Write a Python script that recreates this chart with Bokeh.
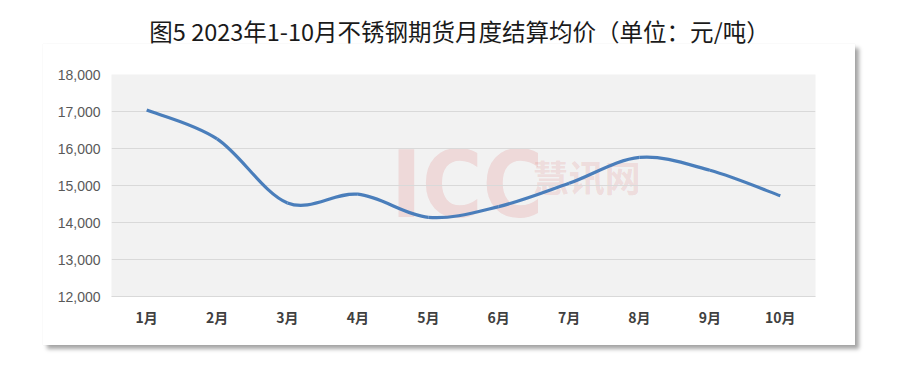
from bokeh.plotting import figure
from bokeh.layouts import column
from bokeh.models import FixedTicker, NumeralTickFormatter, Range1d
from bokeh.core.properties import value
from bokeh.embed import file_html
from bokeh.resources import INLINE

months = ["1月", "2月", "3月", "4月", "5月", "6月", "7月", "8月", "9月", "10月"]
price = [17040, 16260, 14530, 14765, 14140, 14430, 15060, 15760, 15410, 14720]
y_ticks = [12000, 13000, 14000, 15000, 16000, 17000, 18000]
title_text = "图5 2023年1-10月不锈钢期货月度结算均价（单位：元/吨）"

xs = list(range(len(months)))

# ---- title strip ----
t = figure(width=884, height=44, output_backend="svg", toolbar_location=None,
           x_range=Range1d(0, 884), y_range=Range1d(0, 44),
           min_border_left=0, min_border_right=0, min_border_top=0, min_border_bottom=0)
t.axis.visible = False
t.grid.visible = False
t.outline_line_color = None
t.border_fill_color = "white"
t.background_fill_color = "white"
t.text(x=[445.5], y=[14], text=[title_text], text_align="center", text_baseline="middle",
       text_font=value("Noto Sans CJK SC"), text_font_size="23.5px", text_color="#1a1a1a")

# ---- main chart box ----
p = figure(width=812, height=301, output_backend="svg", toolbar_location=None,
           x_range=Range1d(-0.5, len(months) - 0.5), y_range=Range1d(12000, 18000),
           min_border_left=68, min_border_right=40, min_border_top=30, min_border_bottom=49)
p.margin = (0, 0, 0, 43)
p.styles = {"box-shadow": "0 0 1px rgba(0,0,0,0.10), 4px 4px 4px rgba(0,0,0,0.35)"}
p.border_fill_color = "white"
p.background_fill_color = "#f2f2f2"
p.outline_line_color = None

# faint watermark (drawn under the line)
p.text(x=[4.55], y=[15000], text=["ICC"], text_align="center", text_baseline="middle",
       text_font=value("DejaVu Sans Condensed, DejaVu Sans"), text_font_style="bold",
       text_font_size="92px", text_color="#d84a4a", text_alpha=0.15, level="underlay")
p.text(x=[6.25], y=[15250], text=["慧讯网"], text_align="center", text_baseline="middle",
       text_font=value("Noto Sans CJK SC"), text_font_style="bold",
       text_font_size="36px", text_color="#d84a4a", text_alpha=0.15, level="underlay")

# smooth line (Catmull-Rom style Bezier like Excel smoothing)
n = len(xs)
x0, y0, x1, y1, cx0, cy0, cx1, cy1 = [], [], [], [], [], [], [], []
for i in range(n - 1):
    ip = max(i - 1, 0)
    inn = min(i + 2, n - 1)
    x0.append(xs[i]); y0.append(price[i])
    x1.append(xs[i + 1]); y1.append(price[i + 1])
    cx0.append(xs[i] + (xs[i + 1] - xs[ip]) / 6)
    cy0.append(price[i] + (price[i + 1] - price[ip]) / 6)
    cx1.append(xs[i + 1] - (xs[inn] - xs[i]) / 6)
    cy1.append(price[i + 1] - (price[inn] - price[i]) / 6)
p.bezier(x0=x0, y0=y0, x1=x1, y1=y1, cx0=cx0, cy0=cy0, cx1=cx1, cy1=cy1,
         line_color="#4a7ebb", line_width=3.2)

# axes
p.xaxis.ticker = FixedTicker(ticks=xs)
p.xaxis.major_label_overrides = {i: m for i, m in enumerate(months)}
p.xaxis.major_label_text_font = "Noto Sans CJK SC"
p.xaxis.major_label_text_font_style = "bold"
p.xaxis.major_label_text_font_size = "14px"
p.xaxis.major_label_text_color = "#404040"
p.xaxis.major_label_standoff = 10
p.xaxis.axis_line_color = "#d9d9d9"
p.xaxis.major_tick_line_color = None
p.xaxis.minor_tick_line_color = None
p.xaxis.major_tick_out = 0
p.xaxis.major_tick_in = 0
p.xaxis.minor_tick_out = 0

p.yaxis.ticker = FixedTicker(ticks=y_ticks)
p.yaxis.formatter = NumeralTickFormatter(format="0,0")
p.yaxis.major_label_text_font = "Liberation Sans"
p.yaxis.major_label_text_font_size = "14px"
p.yaxis.major_label_text_color = "#595959"
p.yaxis.major_label_standoff = 11
p.yaxis.axis_line_color = None
p.yaxis.major_tick_line_color = None
p.yaxis.minor_tick_line_color = None
p.yaxis.major_tick_out = 0
p.yaxis.major_tick_in = 0
p.yaxis.minor_tick_out = 0

p.xgrid.grid_line_color = None
p.ygrid.ticker = FixedTicker(ticks=y_ticks)
p.ygrid.grid_line_color = "#d9d9d9"
p.ygrid.grid_line_width = 1

layout = column(t, p, spacing=0)
open("out.html", "w").write(file_html(layout, INLINE))
